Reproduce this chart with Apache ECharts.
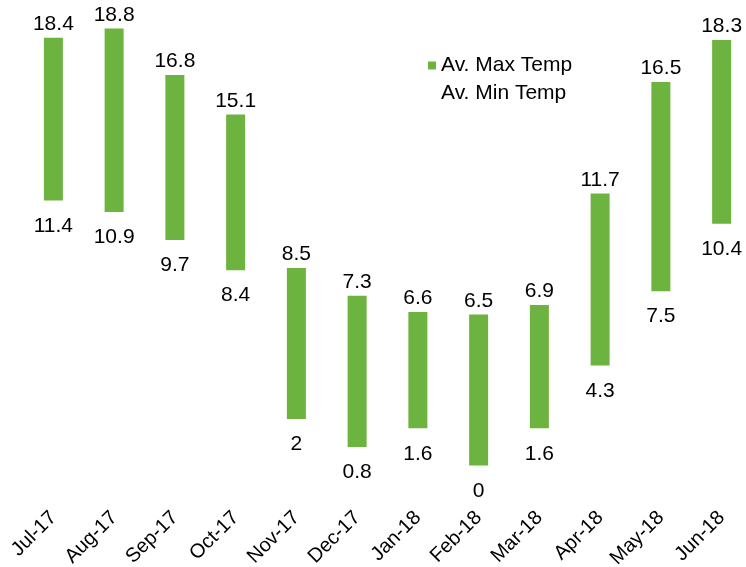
<!DOCTYPE html>
<html>
<head>
<meta charset="utf-8">
<script src="https://cdn.jsdelivr.net/npm/echarts@6/dist/echarts.min.js"></script>
<style>
html,body{margin:0;padding:0;background:#fff;}
#chart{width:746px;height:567px;}
</style>
</head>
<body>
<div id="chart"></div>
<script>
var categories = ['Jul-17','Aug-17','Sep-17','Oct-17','Nov-17','Dec-17','Jan-18','Feb-18','Mar-18','Apr-18','May-18','Jun-18'];
var maxTemp = [18.4, 18.8, 16.8, 15.1, 8.5, 7.3, 6.6, 6.5, 6.9, 11.7, 16.5, 18.3];
var minTemp = [11.4, 10.9, 9.7, 8.4, 2, 0.8, 1.6, 0, 1.6, 4.3, 7.5, 10.4];

var range = maxTemp.map(function (v, i) { return +(v - minTemp[i]).toFixed(2); });
var FONT = '"Liberation Sans", Arial, sans-serif';

var chart = echarts.init(document.getElementById('chart'), null, {renderer: 'canvas'});
chart.setOption({
  animation: false,
  backgroundColor: '#ffffff',
  grid: {left: 23, top: 0.5, width: 729, height: 465, containLabel: false, outerBoundsMode: 'none'},
  legend: {
    orient: 'vertical',
    left: 423,
    top: 50,
    itemWidth: 8,
    itemHeight: 8,
    itemGap: 7,
    icon: 'rect',
    selectedMode: false,
    textStyle: {fontFamily: FONT, fontSize: 21, color: '#000'},
    data: [{name: 'Av. Max Temp'}, {name: 'Av. Min Temp'}]
  },
  xAxis: {
    type: 'category',
    data: categories,
    axisLine: {show: false},
    axisTick: {show: false},
    axisLabel: {
      rotate: 45,
      interval: 0,
      margin: 49,
      fontFamily: FONT,
      fontSize: 20,
      color: '#000',
      verticalAlign: 'middle'
    }
  },
  yAxis: {
    type: 'value',
    min: 0,
    max: 20,
    show: false
  },
  series: [
    {
      name: 'Av. Min Temp',
      type: 'bar',
      stack: 'temp',
      barWidth: 19,
      itemStyle: {color: 'rgba(255,255,255,0)'},
      emphasis: {disabled: true},
      label: {
        show: true,
        position: 'insideTop',
        distance: 15,
        fontFamily: FONT,
        fontSize: 21,
        color: '#000',
        formatter: function (p) { return String(minTemp[p.dataIndex]); }
      },
      data: minTemp
    },
    {
      name: 'Av. Max Temp',
      type: 'bar',
      stack: 'temp',
      barWidth: 19,
      itemStyle: {color: '#6DB33F'},
      emphasis: {disabled: true},
      label: {
        show: true,
        position: 'top',
        distance: 3,
        fontFamily: FONT,
        fontSize: 21,
        color: '#000',
        formatter: function (p) { return String(maxTemp[p.dataIndex]); }
      },
      data: range
    }
  ]
});
</script>
</body>
</html>
